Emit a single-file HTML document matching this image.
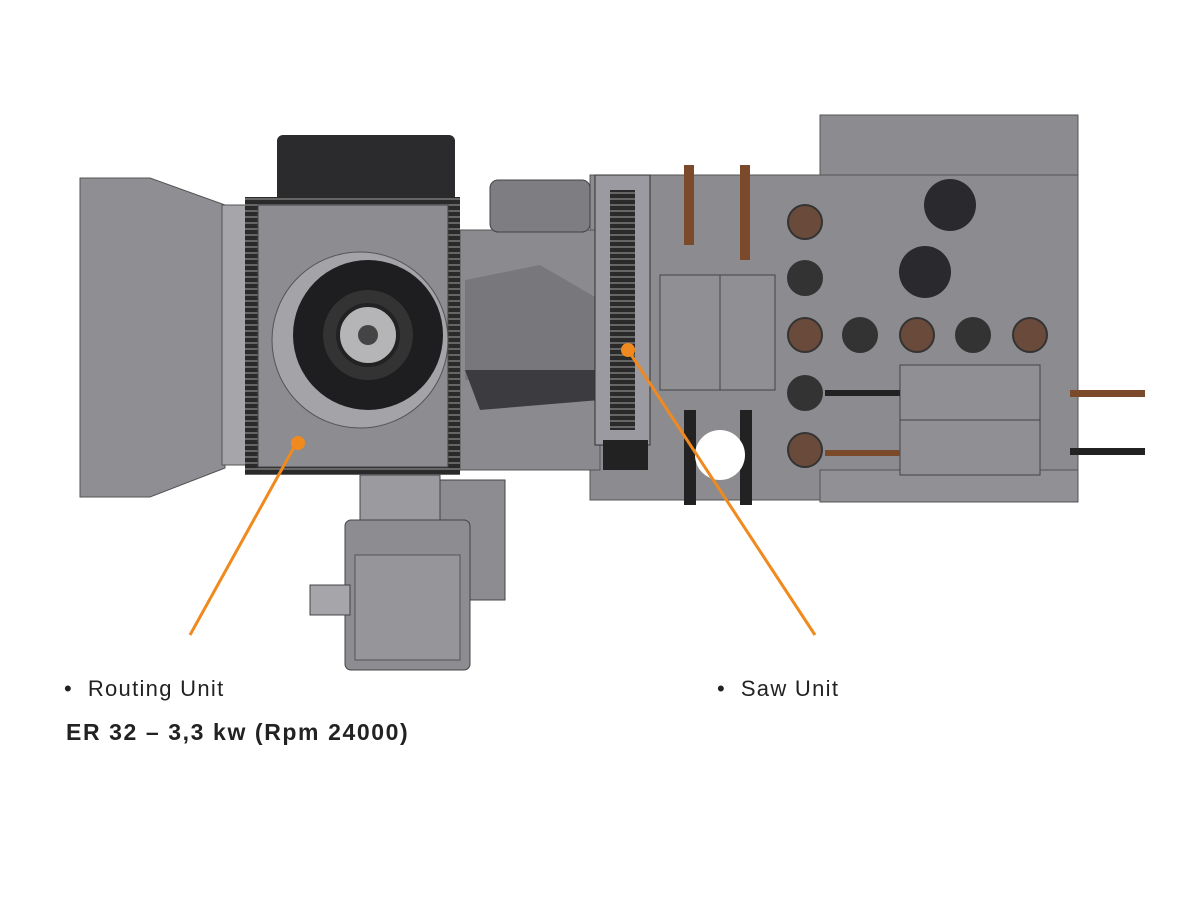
<!DOCTYPE html>
<html><head><meta charset="utf-8"><style>
body{margin:0;background:#fff;width:1200px;height:900px;overflow:hidden;font-family:"Liberation Sans",sans-serif}
.t{position:absolute;font-size:22px;color:#222;letter-spacing:1.3px}
</style></head><body>
<svg width="1200" height="900" style="position:absolute;left:0;top:0">
<defs>
<pattern id="teeth" width="6" height="6" patternUnits="userSpaceOnUse"><rect width="6" height="6" fill="#2a2a2a"/><rect width="6" height="2" fill="#666"/></pattern>
</defs>
<rect x="820" y="115" width="258" height="70" fill="#8b8b90" stroke="#555"/>
<rect x="590" y="175" width="488" height="325" fill="#8b8b90" stroke="#555"/>
<rect x="820" y="470" width="258" height="32" fill="#909095" stroke="#555"/>
<rect x="460" y="230" width="140" height="240" fill="#8a8a8f" stroke="#555"/>
<polygon points="465,280 540,265 600,300 600,380 465,380" fill="#77777c"/>
<polygon points="465,370 600,370 600,400 480,410" fill="#3c3c40"/>
<rect x="490" y="180" width="100" height="52" rx="8" fill="#7d7d82" stroke="#444"/>
<rect x="595" y="175" width="55" height="270" fill="#9a9aa0" stroke="#333"/>
<rect x="610" y="190" width="25" height="240" fill="url(#teeth)"/>
<rect x="603" y="440" width="45" height="30" fill="#222"/>
<rect x="660" y="275" width="60" height="115" fill="#8f8f94" stroke="#444"/>
<rect x="720" y="275" width="55" height="115" fill="#8f8f94" stroke="#444"/>
<rect x="684" y="165" width="10" height="80" fill="#7a4a2a"/>
<rect x="740" y="165" width="10" height="95" fill="#7a4a2a"/>
<rect x="684" y="410" width="12" height="95" fill="#222"/>
<rect x="740" y="410" width="12" height="95" fill="#222"/>
<circle cx="720" cy="455" r="25" fill="#fff"/>
<g stroke="#333" stroke-width="2">
<circle cx="805" cy="222" r="17" fill="#6a4a3a"/><circle cx="805" cy="278" r="17" fill="#333"/>
<circle cx="805" cy="335" r="17" fill="#6a4a3a"/><circle cx="805" cy="393" r="17" fill="#333"/>
<circle cx="805" cy="450" r="17" fill="#6a4a3a"/>
<circle cx="860" cy="335" r="17" fill="#333"/><circle cx="917" cy="335" r="17" fill="#6a4a3a"/>
<circle cx="973" cy="335" r="17" fill="#333"/><circle cx="1030" cy="335" r="17" fill="#6a4a3a"/>
</g>
<circle cx="950" cy="205" r="26" fill="#2a2a2e"/>
<circle cx="925" cy="272" r="26" fill="#2a2a2e"/>
<rect x="900" y="365" width="140" height="55" fill="#8f8f94" stroke="#444"/>
<rect x="900" y="420" width="140" height="55" fill="#8f8f94" stroke="#444"/>
<rect x="825" y="390" width="75" height="6" fill="#222"/>
<rect x="825" y="450" width="75" height="6" fill="#7a4a2a"/>
<rect x="1070" y="390" width="75" height="7" fill="#7a4a2a"/>
<rect x="1070" y="448" width="75" height="7" fill="#222"/>
<polygon points="80,178 150,178 225,205 225,468 150,497 80,497" fill="#8e8e93" stroke="#555"/>
<rect x="222" y="205" width="30" height="260" fill="#a5a5aa" stroke="#555"/>
<rect x="277" y="135" width="178" height="68" rx="6" fill="#2b2b2e"/>
<rect x="245" y="197" width="215" height="278" fill="url(#teeth)"/>
<rect x="258" y="205" width="190" height="262" fill="#8c8c91" stroke="#444"/>
<circle cx="360" cy="340" r="88" fill="#a3a3a8" stroke="#555"/>
<circle cx="368" cy="335" r="75" fill="#1e1e20"/>
<circle cx="368" cy="335" r="45" fill="#333"/>
<circle cx="368" cy="335" r="30" fill="#b5b5b8" stroke="#222" stroke-width="4"/>
<circle cx="368" cy="335" r="10" fill="#444"/>
<rect x="360" y="475" width="80" height="50" fill="#9a9a9f" stroke="#444"/>
<rect x="440" y="480" width="65" height="120" fill="#8c8c91" stroke="#444"/>
<rect x="345" y="520" width="125" height="150" rx="6" fill="#8c8c91" stroke="#444"/>
<rect x="355" y="555" width="105" height="105" fill="#95959a" stroke="#555"/>
<rect x="310" y="585" width="40" height="30" fill="#a5a5aa" stroke="#444"/>
<line x1="298" y1="440" x2="190" y2="635" stroke="#f08a1e" stroke-width="3"/>
<circle cx="298" cy="443" r="7" fill="#f08a1e"/>
<line x1="628" y1="350" x2="815" y2="635" stroke="#f08a1e" stroke-width="3"/>
<circle cx="628" cy="350" r="7" fill="#f08a1e"/>
</svg>
<div class="t" style="left:64px;top:676px">•&nbsp; Routing Unit</div>
<div class="t" style="left:66px;top:719px;font-weight:bold;font-size:23px;letter-spacing:1.6px">ER 32 – 3,3 kw (Rpm 24000)</div>
<div class="t" style="left:717px;top:676px">•&nbsp; Saw Unit</div>
</body></html>
